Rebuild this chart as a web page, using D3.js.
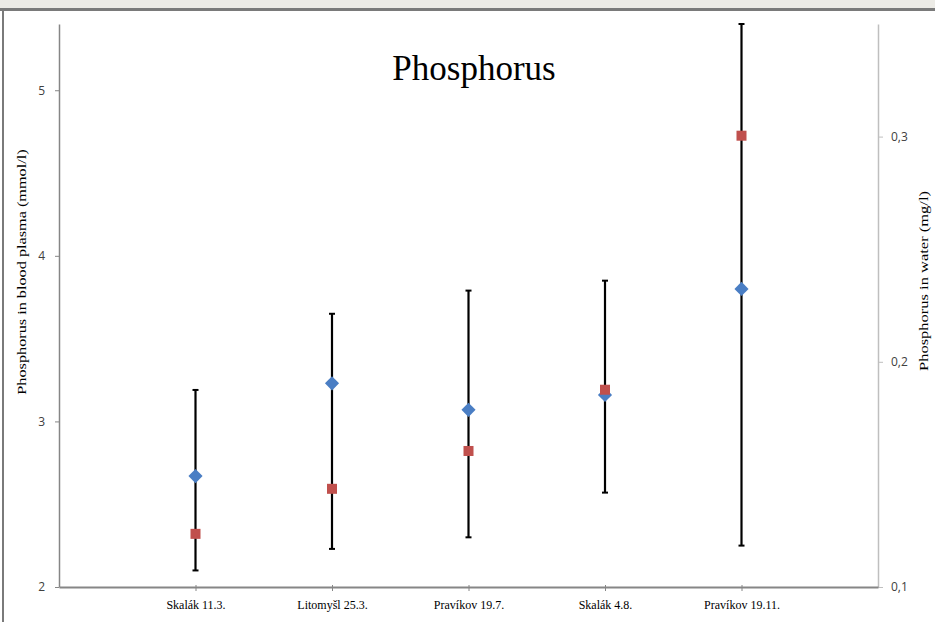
<!DOCTYPE html>
<html>
<head>
<meta charset="utf-8">
<script src="https://cdn.jsdelivr.net/npm/d3@7"></script>
<style>
  body { margin: 0; background: #fff; }
  #graf { width: 935px; height: 622px; }
</style>
</head>
<body>
<div id="graf"></div>
<script>
const graf = d3.select("#graf")

const anchoTotal = 935
const altoTotal = 622
const margins = { left: 59, top: 24, right: 57, bottom: 35 }
const ancho = anchoTotal - margins.left - margins.right
const alto = altoTotal - margins.top - margins.bottom

// Data
const lugares = ["Skalák 11.3.", "Litomyšl 25.3.", "Pravíkov 19.7.", "Skalák 4.8.", "Pravíkov 19.11."]
const plasma = [2.67, 3.23, 3.07, 3.16, 3.80]
const plasmaAlto = [3.19, 3.65, 3.79, 3.85, 5.40]
const plasmaBajo = [2.10, 2.23, 2.30, 2.57, 2.25]
const agua = [0.1236, 0.1436, 0.1604, 0.1876, 0.3004]
const ticksIzq = [2, 3, 4, 5]
const ticksDer = [0.1, 0.2, 0.3]

const svg = graf
  .append("svg")
  .attr("width", anchoTotal)
  .attr("height", altoTotal)

// fondo borroso arriba + marco
svg.append("rect").attr("x", 0).attr("y", 0).attr("width", anchoTotal).attr("height", 8).attr("fill", "#ecebe6")
svg.append("rect").attr("x", 0).attr("y", 8).attr("width", anchoTotal).attr("height", 3).attr("fill", "#7a7a7a")
svg.append("rect").attr("x", 2).attr("y", 8).attr("width", 2).attr("height", altoTotal).attr("fill", "#7a7a7a")

const g = svg
  .append("g")
  .attr("transform", `translate(${margins.left}, ${margins.top})`)

// Escaladores
const x = d3.scalePoint().domain(lugares).range([0, ancho]).padding(1)
const yIzq = d3.scaleLinear().domain([2, 5.4]).range([alto, 0])
const yDer = d3.scaleLinear().domain([0.1, 0.35]).range([alto, 0])

// Ejes
const ejeIzq = g.append("g")
  .call(d3.axisLeft(yIzq).tickValues(ticksIzq).tickSize(5).tickSizeOuter(0).tickPadding(9).tickFormat(d3.format("d")))
ejeIzq.select(".domain").attr("stroke", "#868686").attr("stroke-width", 1.5)
ejeIzq.selectAll(".tick line").attr("stroke", "#868686").attr("x2", 0).attr("x1", -4)

const ejeDer = g.append("g")
  .attr("transform", `translate(${ancho}, 0)`)
  .call(d3.axisRight(yDer).tickValues(ticksDer).tickSize(5).tickSizeOuter(0).tickPadding(8).tickFormat(d => d3.format(".1f")(d).replace(".", ",")))
ejeDer.select(".domain").attr("stroke", "#bfbfbf").attr("stroke-width", 1.5)
ejeDer.selectAll(".tick line").attr("stroke", "#bfbfbf")

const ejeX = g.append("g")
  .attr("transform", `translate(0, ${alto})`)
  .call(d3.axisBottom(x).tickSize(4).tickSizeOuter(0).tickPadding(9))
ejeX.select(".domain").attr("stroke", "#868686").attr("stroke-width", 2)
ejeX.selectAll(".tick line").attr("stroke", "#868686").attr("y1", -2).attr("y2", 4)

ejeIzq.selectAll("text").attr("font-family", "'Open Sans', 'DejaVu Sans', sans-serif").attr("font-size", 12).attr("fill", "#404040")
ejeDer.selectAll("text").attr("font-family", "'Open Sans', 'DejaVu Sans', sans-serif").attr("font-size", 12).attr("fill", "#404040")
ejeX.selectAll("text").attr("font-family", "'Liberation Serif', serif").attr("font-size", 12).attr("fill", "#000")

// Barras de error
const barras = g.append("g")
lugares.forEach((l, i) => {
  barras.append("line")
    .attr("x1", x(l)).attr("x2", x(l))
    .attr("y1", yIzq(plasmaAlto[i])).attr("y2", yIzq(plasmaBajo[i]))
    .attr("stroke", "#000").attr("stroke-width", 2.2)
  ;[plasmaAlto[i], plasmaBajo[i]].forEach(v => {
    barras.append("line")
      .attr("x1", x(l) - 3).attr("x2", x(l) + 3)
      .attr("y1", yIzq(v)).attr("y2", yIzq(v))
      .attr("stroke", "#000").attr("stroke-width", 2)
  })
})

// Diamantes azules
g.append("g").selectAll("path")
  .data(plasma)
  .join("path")
  .attr("d", d3.symbol(d3.symbolSquare, 100))
  .attr("transform", (d, i) => `translate(${x(lugares[i])}, ${yIzq(d)}) rotate(45)`)
  .attr("fill", "#4a7ec4")

// Cuadrados rojos
g.append("g").selectAll("rect")
  .data(agua)
  .join("rect")
  .attr("x", (d, i) => x(lugares[i]) - 5)
  .attr("y", d => yDer(d) - 5)
  .attr("width", 10)
  .attr("height", 10)
  .attr("fill", "#c0504d")

// Titulos
svg.append("text")
  .attr("x", 474).attr("y", 80)
  .attr("text-anchor", "middle")
  .attr("font-family", "'Liberation Serif', serif")
  .attr("font-size", 35)
  .text("Phosphorus")

// la imagen original esta algo estirada en vertical
svg.append("text")
  .attr("transform", `translate(26, 272) rotate(-90) scale(1.25, 1)`)
  .attr("text-anchor", "middle")
  .attr("font-family", "'Liberation Serif', serif")
  .attr("font-size", 13)
  .text("Phosphorus in blood plasma (mmol/l)")

svg.append("text")
  .attr("transform", `translate(928, 281) rotate(-90) scale(1.27, 1)`)
  .attr("text-anchor", "middle")
  .attr("font-family", "'Liberation Serif', serif")
  .attr("font-size", 13)
  .text("Phosphorus in water (mg/l)")
</script>
</body>
</html>
